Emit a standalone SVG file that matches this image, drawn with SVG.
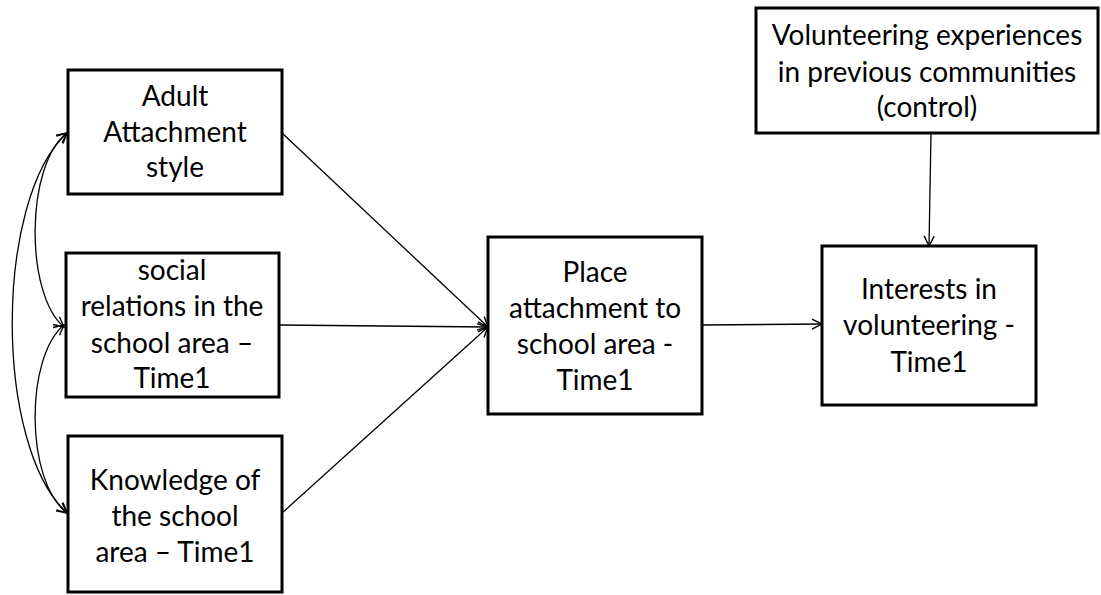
<svg xmlns="http://www.w3.org/2000/svg" width="1101" height="595" viewBox="0 0 1101 595">
<style>
.box{fill:#fff;stroke:#000;stroke-width:3}
.lbl{font-family:Lato,"Liberation Sans",sans-serif;font-size:28px;fill:#000;text-anchor:middle}
.con{fill:none;stroke:#000;stroke-width:1.3}
</style>
<defs>
<marker id="ah" viewBox="0 0 12 12" refX="11" refY="6" markerWidth="12" markerHeight="12" markerUnits="userSpaceOnUse" orient="auto-start-reverse">
<path d="M1,1 L11,6 L1,11" fill="none" stroke="#000" stroke-width="1.4"/>
</marker>
</defs>
<rect width="1101" height="595" fill="#fff"/>
<g id="connectors">
<line class="con" x1="282" y1="133" x2="488" y2="327" marker-end="url(#ah)"/>
<line class="con" x1="279" y1="325" x2="488" y2="327" marker-end="url(#ah)"/>
<line class="con" x1="282" y1="513" x2="488" y2="327" marker-end="url(#ah)"/>
<line class="con" x1="702" y1="325" x2="822" y2="324" marker-end="url(#ah)"/>
<line class="con" x1="931" y1="133" x2="929" y2="246" marker-end="url(#ah)"/>
<path class="con" d="M67,133 C25,165 25,295 64,327" marker-start="url(#ah)" marker-end="url(#ah)"/>
<path class="con" d="M64,325 C25,357 25,481 67,513" marker-start="url(#ah)" marker-end="url(#ah)"/>
<path class="con" d="M67,133 C-6,200 -6,446 67,513" marker-start="url(#ah)" marker-end="url(#ah)"/>
</g>
<g id="adult">
<rect class="box" x="68" y="70" width="214" height="124"/>
<text class="lbl" x="175" y="106">Adult</text>
<text class="lbl" x="175" y="142">Attachment</text>
<text class="lbl" x="175" y="177">style</text>
</g>
<g id="social">
<rect class="box" x="66" y="253" width="213" height="144"/>
<text class="lbl" x="172" y="280">social</text>
<text class="lbl" x="172" y="316">relations in the</text>
<text class="lbl" x="172" y="353">school area –</text>
<text class="lbl" x="172" y="388">Time1</text>
</g>
<g id="knowledge">
<rect class="box" x="68" y="436" width="214" height="156"/>
<text class="lbl" x="175" y="490">Knowledge of</text>
<text class="lbl" x="175" y="526">the school</text>
<text class="lbl" x="175" y="562">area – Time1</text>
</g>
<g id="place">
<rect class="box" x="488" y="237" width="214" height="177"/>
<text class="lbl" x="595" y="282">Place</text>
<text class="lbl" x="595" y="318">attachment to</text>
<text class="lbl" x="595" y="354">school area -</text>
<text class="lbl" x="595" y="390">Time1</text>
</g>
<g id="interests">
<rect class="box" x="822" y="246" width="214" height="159"/>
<text class="lbl" x="929" y="299">Interests in</text>
<text class="lbl" x="929" y="335">volunteering -</text>
<text class="lbl" x="929" y="372">Time1</text>
</g>
<g id="volunteering">
<rect class="box" x="756" y="8" width="342" height="125"/>
<text class="lbl" x="927" y="45">Volunteering experiences</text>
<text class="lbl" x="927" y="82">in previous communities</text>
<text class="lbl" x="927" y="117">(control)</text>
</g>
</svg>
